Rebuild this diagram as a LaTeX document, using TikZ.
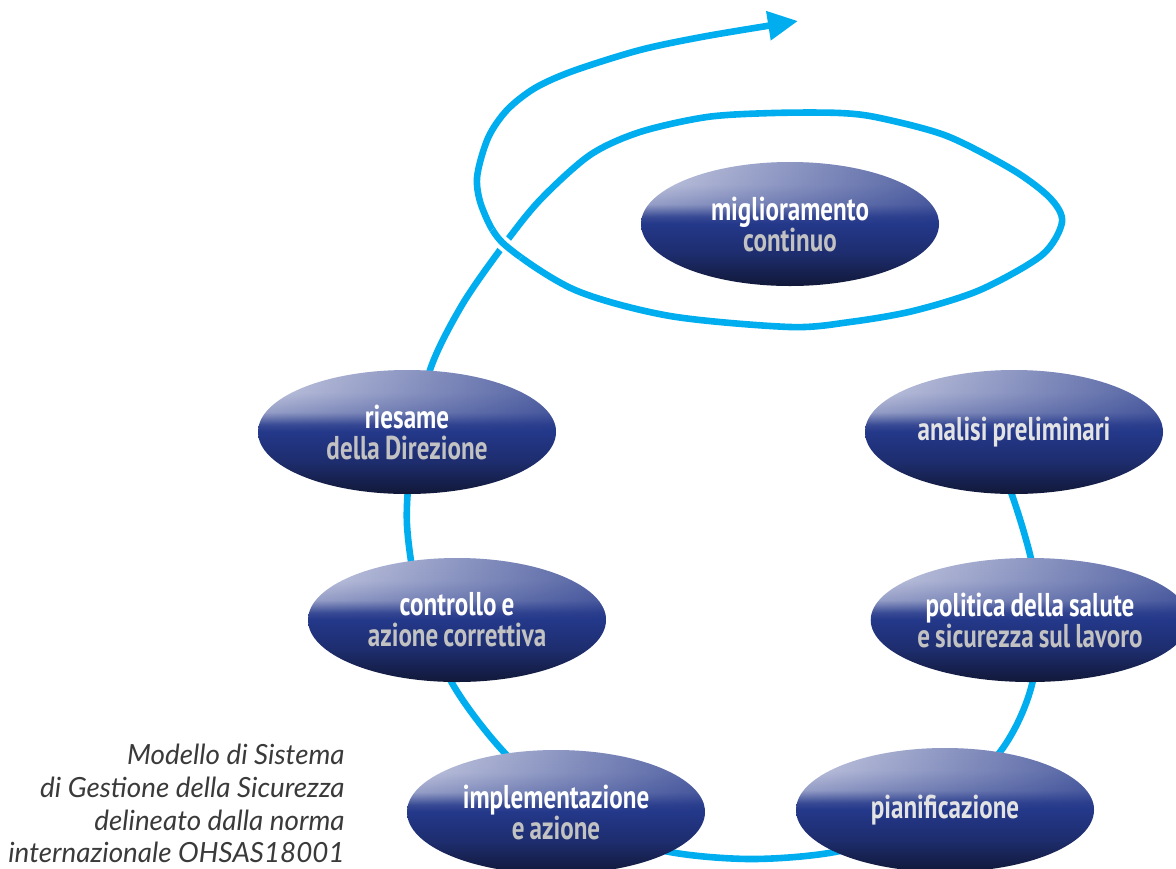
\documentclass[tikz,border=0pt]{standalone}
\usepackage{fontspec}
\usetikzlibrary{shapes.geometric,arrows.meta,fadings}
\newfontfamily\stagefont[FakeStretch=0.76,WordSpace=0.8]{PT Sans}
\newfontfamily\notefont{Lato}
\definecolor{spiralblue}{HTML}{00AEEF}
\definecolor{stagedark}{HTML}{111838}
\definecolor{stagemid}{HTML}{24388A}
\definecolor{stagelight}{HTML}{C8CCE2}
\definecolor{stagegrey}{HTML}{C2C2C2}
\definecolor{notegrey}{HTML}{3A3A3A}
\pgfdeclareverticalshading{stageshade}{100bp}{color(0bp)=(stagedark); color(25bp)=(stagedark); color(38bp)=(stagemid!65!stagedark); color(50bp)=(stagemid); color(53bp)=(stagemid!90!white); color(58bp)=(stagelight!70!stagemid); color(66bp)=(stagelight!95!stagemid); color(75bp)=(stagelight); color(100bp)=(stagelight)}
\newlength{\du}
\setlength{\du}{0.5pt}
\newcommand{\lowline}[1]{\textcolor{stagegrey}{#1}}
\tikzset{
  stage/.style={ellipse, minimum width=149pt, minimum height=62pt, inner sep=0pt,
    shade, shading=stageshade, align=center, text=white,
    font=\stagefont\bfseries\fontsize{16.5}{15.5}\selectfont,
    path picture={\fill[stagemid, path fading=west, fill opacity=0.7]
      (path picture bounding box.north west) rectangle (path picture bounding box.east);}},
  spiral/.style={draw=spiralblue, line width=3.3pt},
  note/.style={align=right, inner sep=0pt, text=notegrey,
    font=\notefont\itshape\fontsize{13.9}{16.3}\selectfont},
}
\begin{document}
\begin{tikzpicture}[x=\du,y=-\du]
\useasboundingbox (0,0) rectangle (1176,868);
% spiral
\draw[spiral, -{Triangle[length=15pt,width=14pt]}] plot[smooth] coordinates {
  (985,440) (1012,495) (1036,585) (1033,680) (1000,752) (925,822) (840,851)
  (750,859) (660,850) (575,818) (502,750) (452,683) (420,605) (407,525)
  (412,455) (430,370) (462,305) (503,246) (540,200) (590,155) (640,132)
  (707,117) (773,113) (840,113) (880,118) (947,136) (1013,170) (1050,198)
  (1062,222) (1042,255) (980,290) (913,311) (850,322) (790,327) (670,316)
  (575,290) (505,245) (483,210) (477,178) (488,138) (507,110) (535,88)
  (573,71) (640,50) (707,36) (798,21)};
% crossing
\begin{scope}
\clip (505,245) circle (10pt);
\draw[white, line width=7pt] plot[smooth] coordinates {(670,316) (575,290) (505,245) (483,210) (477,178)};
\draw[spiral] plot[smooth] coordinates {(670,316) (575,290) (505,245) (483,210) (477,178)};
\end{scope}
% stages
\node[stage] (miglioramento) at (790,224) {miglioramento\\\lowline{continuo}};
\node[stage] (riesame) at (407,432) {riesame\\\lowline{della Direzione}};
\node[stage] (analisi) at (1014,432) {\textcolor{white!55!stagegrey}{analisi preliminari}};
\node[stage] (controllo) at (457,620) {controllo e\\\lowline{azione correttiva}};
\node[stage] (politica) at (1030,620) {politica della salute\\\lowline{e sicurezza sul lavoro}};
\node[stage] (implementazione) at (556,812) {implementazione\\\lowline{e azione}};
\node[stage] (pianificazione) at (945,810) {\textcolor{white!55!stagegrey}{pianificazione}};
% caption
\node[note, anchor=north east] (caption) at (345,744) {Modello di Sistema\\di Gestione della Sicurezza\\delineato dalla norma\\internazionale OHSAS18001};
\end{tikzpicture}
\end{document}
